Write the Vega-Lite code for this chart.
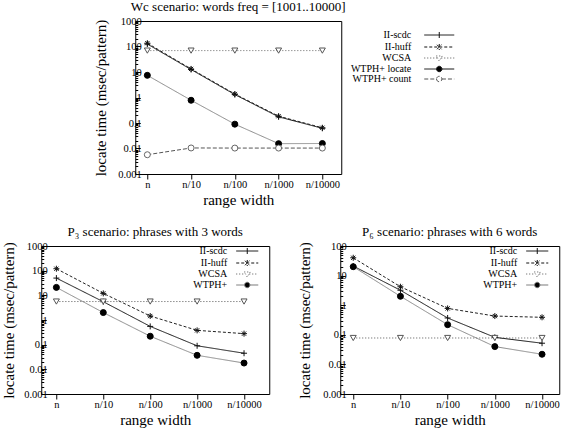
{
  "$schema": "https://vega.github.io/schema/vega-lite/v6.json",
  "padding": {"left": 1, "top": 0, "right": 2, "bottom": 2},
  "background": "white",
  "data": {"values": [
    {"panel": "Wc", "series": "II-scdc", "range": "n", "time": 125},
    {"panel": "Wc", "series": "II-scdc", "range": "n/10", "time": 12.5},
    {"panel": "Wc", "series": "II-scdc", "range": "n/100", "time": 1.3},
    {"panel": "Wc", "series": "II-scdc", "range": "n/1000", "time": 0.175},
    {"panel": "Wc", "series": "II-scdc", "range": "n/10000", "time": 0.062},
    {"panel": "Wc", "series": "II-huff", "range": "n", "time": 135},
    {"panel": "Wc", "series": "II-huff", "range": "n/10", "time": 13.2},
    {"panel": "Wc", "series": "II-huff", "range": "n/100", "time": 1.37},
    {"panel": "Wc", "series": "II-huff", "range": "n/1000", "time": 0.185},
    {"panel": "Wc", "series": "II-huff", "range": "n/10000", "time": 0.065},
    {"panel": "Wc", "series": "WCSA", "range": "n", "time": 69},
    {"panel": "Wc", "series": "WCSA", "range": "n/10", "time": 69},
    {"panel": "Wc", "series": "WCSA", "range": "n/100", "time": 69},
    {"panel": "Wc", "series": "WCSA", "range": "n/1000", "time": 69},
    {"panel": "Wc", "series": "WCSA", "range": "n/10000", "time": 69},
    {"panel": "Wc", "series": "WTPH+ locate", "range": "n", "time": 7.4},
    {"panel": "Wc", "series": "WTPH+ locate", "range": "n/10", "time": 0.78},
    {"panel": "Wc", "series": "WTPH+ locate", "range": "n/100", "time": 0.09},
    {"panel": "Wc", "series": "WTPH+ locate", "range": "n/1000", "time": 0.0155},
    {"panel": "Wc", "series": "WTPH+ locate", "range": "n/10000", "time": 0.0157},
    {"panel": "Wc", "series": "WTPH+ count", "range": "n", "time": 0.0057},
    {"panel": "Wc", "series": "WTPH+ count", "range": "n/10", "time": 0.0105},
    {"panel": "Wc", "series": "WTPH+ count", "range": "n/100", "time": 0.0104},
    {"panel": "Wc", "series": "WTPH+ count", "range": "n/1000", "time": 0.0104},
    {"panel": "Wc", "series": "WTPH+ count", "range": "n/10000", "time": 0.0104},
    {"panel": "P3", "series": "II-scdc", "range": "n", "time": 50},
    {"panel": "P3", "series": "II-scdc", "range": "n/10", "time": 5.5},
    {"panel": "P3", "series": "II-scdc", "range": "n/100", "time": 0.55},
    {"panel": "P3", "series": "II-scdc", "range": "n/1000", "time": 0.09},
    {"panel": "P3", "series": "II-scdc", "range": "n/10000", "time": 0.045},
    {"panel": "P3", "series": "II-huff", "range": "n", "time": 120},
    {"panel": "P3", "series": "II-huff", "range": "n/10", "time": 12},
    {"panel": "P3", "series": "II-huff", "range": "n/100", "time": 1.45},
    {"panel": "P3", "series": "II-huff", "range": "n/1000", "time": 0.38},
    {"panel": "P3", "series": "II-huff", "range": "n/10000", "time": 0.28},
    {"panel": "P3", "series": "WCSA", "range": "n", "time": 5.6},
    {"panel": "P3", "series": "WCSA", "range": "n/10", "time": 5.6},
    {"panel": "P3", "series": "WCSA", "range": "n/100", "time": 5.6},
    {"panel": "P3", "series": "WCSA", "range": "n/1000", "time": 5.6},
    {"panel": "P3", "series": "WCSA", "range": "n/10000", "time": 5.6},
    {"panel": "P3", "series": "WTPH+", "range": "n", "time": 21},
    {"panel": "P3", "series": "WTPH+", "range": "n/10", "time": 2.0},
    {"panel": "P3", "series": "WTPH+", "range": "n/100", "time": 0.22},
    {"panel": "P3", "series": "WTPH+", "range": "n/1000", "time": 0.037},
    {"panel": "P3", "series": "WTPH+", "range": "n/10000", "time": 0.018},
    {"panel": "P6", "series": "II-scdc", "range": "n", "time": 21},
    {"panel": "P6", "series": "II-scdc", "range": "n/10", "time": 3.2},
    {"panel": "P6", "series": "II-scdc", "range": "n/100", "time": 0.37},
    {"panel": "P6", "series": "II-scdc", "range": "n/1000", "time": 0.082},
    {"panel": "P6", "series": "II-scdc", "range": "n/10000", "time": 0.052},
    {"panel": "P6", "series": "II-huff", "range": "n", "time": 40},
    {"panel": "P6", "series": "II-huff", "range": "n/10", "time": 4.2},
    {"panel": "P6", "series": "II-huff", "range": "n/100", "time": 0.78},
    {"panel": "P6", "series": "II-huff", "range": "n/1000", "time": 0.43},
    {"panel": "P6", "series": "II-huff", "range": "n/10000", "time": 0.39},
    {"panel": "P6", "series": "WCSA", "range": "n", "time": 0.078},
    {"panel": "P6", "series": "WCSA", "range": "n/10", "time": 0.078},
    {"panel": "P6", "series": "WCSA", "range": "n/100", "time": 0.078},
    {"panel": "P6", "series": "WCSA", "range": "n/1000", "time": 0.078},
    {"panel": "P6", "series": "WCSA", "range": "n/10000", "time": 0.078},
    {"panel": "P6", "series": "WTPH+", "range": "n", "time": 20},
    {"panel": "P6", "series": "WTPH+", "range": "n/10", "time": 2.0},
    {"panel": "P6", "series": "WTPH+", "range": "n/100", "time": 0.22},
    {"panel": "P6", "series": "WTPH+", "range": "n/1000", "time": 0.04},
    {"panel": "P6", "series": "WTPH+", "range": "n/10000", "time": 0.022}
  ]},
  "vconcat": [
    {
      "width": 206,
      "height": 153,
      "title": {"text": "Wc scenario: words freq = [1001..10000]"},
      "transform": [{"filter": "datum.panel === 'Wc'"}],
      "encoding": {
        "x": {"field": "range", "type": "ordinal", "sort": ["n", "n/10", "n/100", "n/1000", "n/10000"],
              "scale": {"type": "point", "padding": 0.354, "align": 0.39},
              "axis": {"title": "range width", "labelAngle": 0}},
        "y": {"field": "time", "type": "quantitative",
              "scale": {"type": "log", "domain": [0.001, 1000], "nice": false},
              "axis": {"title": "locate time (msec/pattern)", "titlePadding": 9,
                       "values": [0.001,0.002,0.003,0.004,0.005,0.006,0.007,0.008,0.009,0.01,0.02,0.03,0.04,0.05,0.06,0.07,0.08,0.09,0.1,0.2,0.3,0.4,0.5,0.6,0.7,0.8,0.9,1,2,3,4,5,6,7,8,9,10,20,30,40,50,60,70,80,90,100,200,300,400,500,600,700,800,900,1000],
                       "labelExpr": "abs(log(datum.value)/LN10 - round(log(datum.value)/LN10)) < 0.000001 ? '' + datum.value : ''",
                       "tickSize": {"condition": {"test": "abs(log(datum.value)/LN10 - round(log(datum.value)/LN10)) < 0.000001", "value": -5}, "value": -2.5}}}
      },
      "layer": [
        {
          "mark": {"type": "line", "strokeWidth": 1},
          "encoding": {
            "color": {"field": "series", "type": "nominal", "legend": null,
                      "scale": {"domain": ["II-huff", "II-scdc", "WCSA", "WTPH+ count", "WTPH+ locate"], "range": ["#222222", "#111111", "#666666", "#555555", "#888888"]}},
            "strokeDash": {"field": "series", "type": "nominal", "legend": null,
                      "scale": {"domain": ["II-huff", "II-scdc", "WCSA", "WTPH+ count", "WTPH+ locate"], "range": [[3, 2], [1, 0], [1, 2], [4, 2], [1, 0]]}}
          }
        },
        {
          "mark": {"type": "point", "filled": false, "size": 36, "strokeWidth": 1, "opacity": 1},
          "encoding": {
            "shape": {"field": "series", "type": "nominal", "legend": null,
                      "scale": {"domain": ["II-huff", "II-scdc", "WCSA", "WTPH+ count", "WTPH+ locate"],
                                "range": ["M-1,0H1M0,-1V1M-0.7,-0.7L0.7,0.7M-0.7,0.7L0.7,-0.7", "M-1,0H1M0,-1V1", "triangle-down", "circle", "circle"]}},
            "stroke": {"field": "series", "type": "nominal", "legend": null,
                      "scale": {"domain": ["II-huff", "II-scdc", "WCSA", "WTPH+ count", "WTPH+ locate"], "range": ["#111111", "#111111", "#555555", "#666666", "#000000"]}},
            "fill": {"field": "series", "type": "nominal", "legend": null,
                      "scale": {"domain": ["II-huff", "II-scdc", "WCSA", "WTPH+ count", "WTPH+ locate"], "range": ["#ffffff", "#ffffff", "#ffffff", "#ffffff", "#000000"]}}
          }
        },
        {
          "transform": [{"filter": "false"}],
          "mark": {"type": "point", "filled": false, "size": 81, "strokeWidth": 1, "opacity": 1},
          "encoding": {
            "shape": {"field": "series", "type": "nominal",
                      "scale": {"domain": ["II-scdc", "II-huff", "WCSA", "WTPH+ locate", "WTPH+ count"],
                                "range": ["M-18,0M-3.33,0H3.33M0,-0.67V0.67", "M-18,0M-3.33,0H3.33M0,-0.67V0.67M-0.5,-0.5L0.5,0.5M-0.5,0.5L0.5,-0.5", "M-18,0M-3.33,0H-0.45M0.45,0H3.33M-0.67,-0.45L0.67,-0.45L0,0.67Z", "M-18,0M-3.33,0H-0.6M0.6,0H3.33M-0.6,0A0.6,0.6,0,1,0,0.6,0A0.6,0.6,0,1,0,-0.6,0Z", "M-18,0M-3.33,0H-0.6M0.6,0H3.33M-0.6,0A0.6,0.6,0,1,0,0.6,0A0.6,0.6,0,1,0,-0.6,0Z"]},
                      "legend": {"title": null, "orient": "right", "offset": 84, "padding": 9, "symbolSize": 81, "symbolStrokeWidth": 1, "symbolOpacity": 1, "rowPadding": 0,
                                 "labelAlign": "right", "labelOffset": -33, "labelFontSize": 10}},
            "stroke": {"field": "series", "type": "nominal",
                      "scale": {"domain": ["II-scdc", "II-huff", "WCSA", "WTPH+ locate", "WTPH+ count"], "range": ["#111111", "#111111", "#555555", "#111111", "#555555"]}},
            "fill": {"field": "series", "type": "nominal",
                      "scale": {"domain": ["II-scdc", "II-huff", "WCSA", "WTPH+ locate", "WTPH+ count"], "range": ["#ffffff", "#ffffff", "#ffffff", "#000000", "#ffffff"]}},
            "strokeDash": {"field": "series", "type": "nominal",
                      "scale": {"domain": ["II-scdc", "II-huff", "WCSA", "WTPH+ locate", "WTPH+ count"], "range": [[1, 0], [3, 2], [1, 2], [1, 0], [4, 2]]}}
          }
        }
      ],
      "resolve": {"scale": {"shape": "independent", "stroke": "independent", "fill": "independent", "strokeDash": "independent"}}
    },
    {
      "hconcat": [
        {
          "width": 228,
          "height": 148,
          "title": {"text": "P₃ scenario: phrases with 3 words"},
          "transform": [{"filter": "datum.panel === 'P3'"}],
          "encoding": {
            "x": {"field": "range", "type": "ordinal", "sort": ["n", "n/10", "n/100", "n/1000", "n/10000"],
                  "scale": {"type": "point", "padding": 0.43, "align": 0.375},
                  "axis": {"title": "range width", "labelAngle": 0}},
            "y": {"field": "time", "type": "quantitative",
                  "scale": {"type": "log", "domain": [0.001, 1000], "nice": false},
                  "axis": {"title": "locate time (msec/pattern)", "titlePadding": 7,
                           "values": [0.001,0.002,0.003,0.004,0.005,0.006,0.007,0.008,0.009,0.01,0.02,0.03,0.04,0.05,0.06,0.07,0.08,0.09,0.1,0.2,0.3,0.4,0.5,0.6,0.7,0.8,0.9,1,2,3,4,5,6,7,8,9,10,20,30,40,50,60,70,80,90,100,200,300,400,500,600,700,800,900,1000],
                           "labelExpr": "abs(log(datum.value)/LN10 - round(log(datum.value)/LN10)) < 0.000001 ? '' + datum.value : ''",
                           "tickSize": {"condition": {"test": "abs(log(datum.value)/LN10 - round(log(datum.value)/LN10)) < 0.000001", "value": -5}, "value": -2.5}}}
          },
          "layer": [
            {
              "mark": {"type": "line", "strokeWidth": 1},
              "encoding": {
                "color": {"field": "series", "type": "nominal", "legend": null,
                          "scale": {"domain": ["II-huff", "II-scdc", "WCSA", "WTPH+"], "range": ["#222222", "#111111", "#555555", "#888888"]}},
                "strokeDash": {"field": "series", "type": "nominal", "legend": null,
                          "scale": {"domain": ["II-huff", "II-scdc", "WCSA", "WTPH+"], "range": [[3, 2], [1, 0], [1, 2], [1, 0]]}}
              }
            },
            {
              "mark": {"type": "point", "filled": false, "size": 36, "strokeWidth": 1, "opacity": 1},
              "encoding": {
                "shape": {"field": "series", "type": "nominal", "legend": null,
                          "scale": {"domain": ["II-huff", "II-scdc", "WCSA", "WTPH+"],
                                    "range": ["M-1,0H1M0,-1V1M-0.7,-0.7L0.7,0.7M-0.7,0.7L0.7,-0.7", "M-1,0H1M0,-1V1", "triangle-down", "circle"]}},
                "stroke": {"field": "series", "type": "nominal", "legend": null,
                          "scale": {"domain": ["II-huff", "II-scdc", "WCSA", "WTPH+"], "range": ["#111111", "#111111", "#555555", "#000000"]}},
                "fill": {"field": "series", "type": "nominal", "legend": null,
                          "scale": {"domain": ["II-huff", "II-scdc", "WCSA", "WTPH+"], "range": ["#ffffff", "#ffffff", "#ffffff", "#000000"]}}
              }
            },
            {
              "transform": [{"filter": "false"}],
              "mark": {"type": "point", "filled": false, "size": 81, "strokeWidth": 1, "opacity": 1},
              "encoding": {
                "shape": {"field": "series", "type": "nominal",
                          "scale": {"domain": ["II-scdc", "II-huff", "WCSA", "WTPH+"],
                                    "range": ["M-11.5,0M4.3,0M-2.45,0H2.45M0,-0.67V0.67", "M-11.5,0M4.3,0M-2.45,0H2.45M0,-0.67V0.67M-0.5,-0.5L0.5,0.5M-0.5,0.5L0.5,-0.5", "M-11.5,0M4.3,0M-2.45,0H-0.45M0.45,0H2.45M-0.67,-0.45L0.67,-0.45L0,0.67Z", "M-11.5,0M4.3,0M-2.45,0H-0.6M0.6,0H2.45M-0.6,0A0.6,0.6,0,1,0,0.6,0A0.6,0.6,0,1,0,-0.6,0Z"]},
                          "legend": {"title": null, "orient": "top-right", "offset": 0, "padding": 0, "symbolSize": 81, "symbolStrokeWidth": 1, "symbolOpacity": 1, "rowPadding": 0,
                                     "labelAlign": "right", "labelOffset": -25, "labelFontSize": 10}},
                "stroke": {"field": "series", "type": "nominal",
                          "scale": {"domain": ["II-scdc", "II-huff", "WCSA", "WTPH+"], "range": ["#111111", "#111111", "#555555", "#777777"]}},
                "fill": {"field": "series", "type": "nominal",
                          "scale": {"domain": ["II-scdc", "II-huff", "WCSA", "WTPH+"], "range": ["#ffffff", "#ffffff", "#ffffff", "#000000"]}},
                "strokeDash": {"field": "series", "type": "nominal",
                          "scale": {"domain": ["II-scdc", "II-huff", "WCSA", "WTPH+"], "range": [[1, 0], [3, 2], [1, 2], [1, 0]]}}
              }
            }
          ],
          "resolve": {"scale": {"shape": "independent", "stroke": "independent", "fill": "independent", "strokeDash": "independent"}}
        },
        {
          "width": 219,
          "height": 148,
          "title": {"text": "P₆ scenario: phrases with 6 words"},
          "transform": [{"filter": "datum.panel === 'P6'"}],
          "encoding": {
            "x": {"field": "range", "type": "ordinal", "sort": ["n", "n/10", "n/100", "n/1000", "n/10000"],
                  "scale": {"type": "point", "padding": 0.32, "align": 0.43},
                  "axis": {"title": "range width", "labelAngle": 0}},
            "y": {"field": "time", "type": "quantitative",
                  "scale": {"type": "log", "domain": [0.001, 100], "nice": false},
                  "axis": {"title": "locate time (msec/pattern)", "titlePadding": 10,
                           "values": [0.001,0.002,0.003,0.004,0.005,0.006,0.007,0.008,0.009,0.01,0.02,0.03,0.04,0.05,0.06,0.07,0.08,0.09,0.1,0.2,0.3,0.4,0.5,0.6,0.7,0.8,0.9,1,2,3,4,5,6,7,8,9,10,20,30,40,50,60,70,80,90,100],
                           "labelExpr": "abs(log(datum.value)/LN10 - round(log(datum.value)/LN10)) < 0.000001 ? '' + datum.value : ''",
                           "tickSize": {"condition": {"test": "abs(log(datum.value)/LN10 - round(log(datum.value)/LN10)) < 0.000001", "value": -5}, "value": -2.5}}}
          },
          "layer": [
            {
              "mark": {"type": "line", "strokeWidth": 1},
              "encoding": {
                "color": {"field": "series", "type": "nominal", "legend": null,
                          "scale": {"domain": ["II-huff", "II-scdc", "WCSA", "WTPH+"], "range": ["#222222", "#111111", "#555555", "#888888"]}},
                "strokeDash": {"field": "series", "type": "nominal", "legend": null,
                          "scale": {"domain": ["II-huff", "II-scdc", "WCSA", "WTPH+"], "range": [[3, 2], [1, 0], [1, 2], [1, 0]]}}
              }
            },
            {
              "mark": {"type": "point", "filled": false, "size": 36, "strokeWidth": 1, "opacity": 1},
              "encoding": {
                "shape": {"field": "series", "type": "nominal", "legend": null,
                          "scale": {"domain": ["II-huff", "II-scdc", "WCSA", "WTPH+"],
                                    "range": ["M-1,0H1M0,-1V1M-0.7,-0.7L0.7,0.7M-0.7,0.7L0.7,-0.7", "M-1,0H1M0,-1V1", "triangle-down", "circle"]}},
                "stroke": {"field": "series", "type": "nominal", "legend": null,
                          "scale": {"domain": ["II-huff", "II-scdc", "WCSA", "WTPH+"], "range": ["#111111", "#111111", "#555555", "#000000"]}},
                "fill": {"field": "series", "type": "nominal", "legend": null,
                          "scale": {"domain": ["II-huff", "II-scdc", "WCSA", "WTPH+"], "range": ["#ffffff", "#ffffff", "#ffffff", "#000000"]}}
              }
            },
            {
              "transform": [{"filter": "false"}],
              "mark": {"type": "point", "filled": false, "size": 81, "strokeWidth": 1, "opacity": 1},
              "encoding": {
                "shape": {"field": "series", "type": "nominal",
                          "scale": {"domain": ["II-scdc", "II-huff", "WCSA", "WTPH+"],
                                    "range": ["M-11.5,0M4.3,0M-2.45,0H2.45M0,-0.67V0.67", "M-11.5,0M4.3,0M-2.45,0H2.45M0,-0.67V0.67M-0.5,-0.5L0.5,0.5M-0.5,0.5L0.5,-0.5", "M-11.5,0M4.3,0M-2.45,0H-0.45M0.45,0H2.45M-0.67,-0.45L0.67,-0.45L0,0.67Z", "M-11.5,0M4.3,0M-2.45,0H-0.6M0.6,0H2.45M-0.6,0A0.6,0.6,0,1,0,0.6,0A0.6,0.6,0,1,0,-0.6,0Z"]},
                          "legend": {"title": null, "orient": "top-right", "offset": 0, "padding": 0, "symbolSize": 81, "symbolStrokeWidth": 1, "symbolOpacity": 1, "rowPadding": 0,
                                     "labelAlign": "right", "labelOffset": -25, "labelFontSize": 10}},
                "stroke": {"field": "series", "type": "nominal",
                          "scale": {"domain": ["II-scdc", "II-huff", "WCSA", "WTPH+"], "range": ["#111111", "#111111", "#555555", "#777777"]}},
                "fill": {"field": "series", "type": "nominal",
                          "scale": {"domain": ["II-scdc", "II-huff", "WCSA", "WTPH+"], "range": ["#ffffff", "#ffffff", "#ffffff", "#000000"]}},
                "strokeDash": {"field": "series", "type": "nominal",
                          "scale": {"domain": ["II-scdc", "II-huff", "WCSA", "WTPH+"], "range": [[1, 0], [3, 2], [1, 2], [1, 0]]}}
              }
            }
          ],
          "resolve": {"scale": {"shape": "independent", "stroke": "independent", "fill": "independent", "strokeDash": "independent"}}
        }
      ],
      "spacing": 26,
      "resolve": {"scale": {"x": "independent", "y": "independent", "color": "independent", "strokeDash": "independent", "shape": "independent", "stroke": "independent", "fill": "independent"}}
    }
  ],
  "spacing": 17,
  "center": true,
  "resolve": {"scale": {"x": "independent", "y": "independent", "color": "independent", "strokeDash": "independent", "shape": "independent", "stroke": "independent", "fill": "independent"}},
  "config": {
    "font": "Liberation Serif",
    "view": {"stroke": "black", "strokeWidth": 1},
    "title": {"font": "Liberation Serif", "fontSize": 13, "fontWeight": "normal", "color": "black", "offset": 2},
    "axis": {"labelFont": "Liberation Serif", "labelFontSize": 10.5, "labelColor": "black", "titleFont": "Liberation Serif", "titleFontSize": 15, "titleFontWeight": "normal", "titleColor": "black", "grid": false, "domain": false, "tickColor": "black", "labelOverlap": false},
    "axisX": {"labelPadding": 0, "titlePadding": 3},
    "axisY": {"labelPadding": -1},
    "legend": {"labelFont": "Liberation Serif", "labelColor": "black"}
  }
}
